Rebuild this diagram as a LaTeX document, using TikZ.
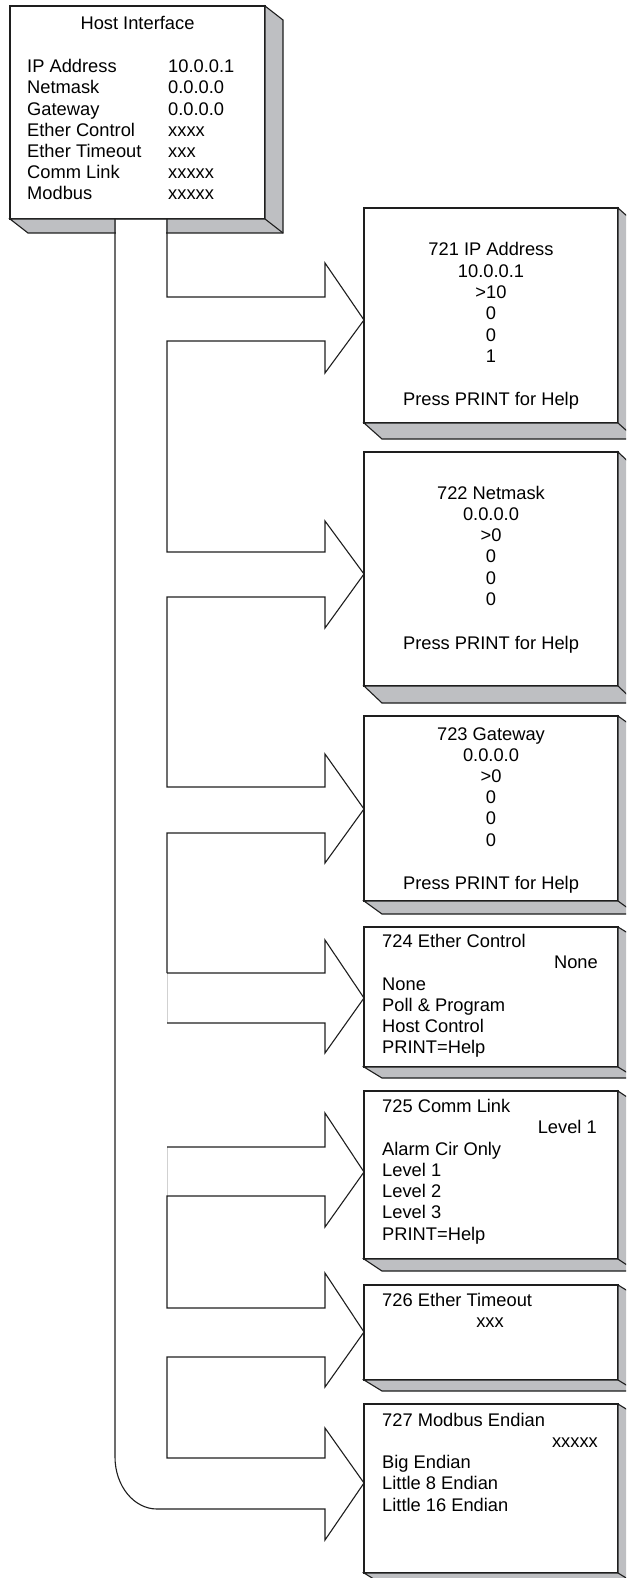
\documentclass[tikz,border=0pt]{standalone}
\usepackage{fontspec}
\setmainfont{Liberation Sans}
\definecolor{shade}{RGB}{190,191,194}
\definecolor{ink}{RGB}{30,30,30}
\tikzset{
  front/.style={draw=ink, fill=white, line width=1.1pt, inner sep=0pt, outer sep=0pt, anchor=north west},
  shadowface/.style={draw=ink, fill=shade, line width=1.1pt, line join=miter},
  pipe/.style={draw=ink, line width=1.1pt, line join=miter},
  seam/.style={draw=black!18, line width=0.8pt},
  txt/.style={inner sep=0pt, font=\fontsize{18.3}{21.4}\selectfont, text=black},
}
\newcommand\mkbox[6]{%
  \node[front, minimum width=#4pt, minimum height=#5pt] (#1) at (#2,#3) {};
  \path[shadowface] (#1.south west) -- ++(18,#6) -- ++(#4,0) -- ++(0,-#5) -- (#1.north east) -- (#1.south east) -- cycle;
  \draw[pipe] (#1.south east) -- ++(18,#6);
}
\begin{document}
\begin{tikzpicture}[x=1pt,y=-1pt]
\useasboundingbox (0,0) rectangle (626,1578);
\clip (0,0) rectangle (626,1578);

% main box
\mkbox{host}{10}{6}{255}{213}{14}
\fill[white] (115.6,220) rectangle (166.4,236);

% right boxes
\mkbox{b1}{364}{208}{254}{215}{16}
\mkbox{b2}{364}{452}{254}{234}{17}
\mkbox{b3}{364}{716}{254}{185}{13}
\mkbox{b4}{364}{927}{254}{140}{11}
\mkbox{b5}{364}{1091}{254}{168}{12}
\mkbox{b6}{364}{1285}{254}{95}{11}
\mkbox{b7}{364}{1404}{254}{169}{11}

% arrow tips on the boxes
\coordinate (t1) at (b1.west |- 0,320);
\coordinate (t2) at (b2.west |- 0,574);
\coordinate (t3) at (b3.west |- 0,809);
\coordinate (t4) at (b4.west |- 0,998);
\coordinate (t5) at (b5.west |- 0,1172);
\coordinate (t6) at (b6.west |- 0,1332);
\coordinate (t7) at (b7.west |- 0,1483);

% light seams
\draw[seam] (167,973) -- (167,1023);
\draw[seam] (167,1147) -- (167,1196);

% outer pipe line
\draw[pipe] (host.south -| 115,0) -- (115,1457) .. controls (115,1486) and (134,1509) .. (157,1509)
  -- (325,1509) -- (325,1540) -- (t7) -- (325,1428) -- (325,1458) -- (167,1458)
  -- (167,1357) -- (325,1357) -- (325,1387) -- (t6) -- (325,1273) -- (325,1308) -- (167,1308)
  -- (167,1196) -- (325,1196) -- (325,1227) -- (t5) -- (325,1113) -- (325,1147) -- (167,1147);
% inner branches
\draw[pipe] (167,1023) -- (325,1023) -- (325,1053) -- (t4) -- (325,940) -- (325,973) -- (167,973);
\draw[pipe] (167,973) -- (167,833) -- (325,833) -- (325,863) -- (t3) -- (325,754) -- (325,787) -- (167,787)
  -- (167,597) -- (325,597) -- (325,628) -- (t2) -- (325,521) -- (325,552) -- (167,552)
  -- (167,341) -- (325,341) -- (325,373) -- (t1) -- (325,263) -- (325,297) -- (167,297)
  -- (host.south -| 167,0);

% main box text
\node[txt, anchor=base] (h0) at (137.5,30) {Host Interface};
\foreach \t [count=\i] in {IP Address,Netmask,Gateway,Ether Control,Ether Timeout,Comm Link,Modbus}
  \node[txt, anchor=base west] (hl\i) at (27,{72.7+(\i-1)*21.2}) {\t};
\foreach \t [count=\i] in {10.0.0.1,0.0.0.0,0.0.0.0,xxxx,xxx,xxxxx,xxxxx}
  \node[txt, anchor=base west] (hr\i) at (168,{72.7+(\i-1)*21.2}) {\t};

% box 1
\foreach \t [count=\i] in {721 IP Address,10.0.0.1,{>10},0,0,1}
  \node[txt, anchor=base] (ba\i) at (491,{256+(\i-1)*21.3}) {\t};
\node[txt, anchor=base] (bap) at (491,405) {Press PRINT for Help};
% box 2
\foreach \t [count=\i] in {722 Netmask,0.0.0.0,{>0},0,0,0}
  \node[txt, anchor=base] (bb\i) at (491,{499+(\i-1)*21.3}) {\t};
\node[txt, anchor=base] (bbp) at (491,649) {Press PRINT for Help};
% box 3
\foreach \t [count=\i] in {723 Gateway,0.0.0.0,{>0},0,0,0}
  \node[txt, anchor=base] (bc\i) at (491,{740+(\i-1)*21.2}) {\t};
\node[txt, anchor=base] (bcp) at (491,889) {Press PRINT for Help};
% box 4
\node[txt, anchor=base west] (bd0) at (382,947.7) {724 Ether Control};
\node[txt, anchor=base east] (bdv) at (598,968.8) {None};
\foreach \t [count=\i] in {None,Poll \& Program,Host Control,PRINT=Help}
  \node[txt, anchor=base west] (bd\i) at (382,{990+(\i-1)*21.3}) {\t};
% box 5
\node[txt, anchor=base west] (be0) at (382,1112.3) {725 Comm Link};
\node[txt, anchor=base east] (bev) at (597,1133.6) {Level 1};
\foreach \t [count=\i] in {Alarm Cir Only,Level 1,Level 2,Level 3,PRINT=Help}
  \node[txt, anchor=base west] (be\i) at (382,{1155+(\i-1)*21.3}) {\t};
% box 6
\node[txt, anchor=base west] (bf0) at (382,1306) {726 Ether Timeout};
\node[txt, anchor=base] (bfv) at (490,1327.5) {xxx};
% box 7
\node[txt, anchor=base west] (bg0) at (382,1426) {727 Modbus Endian};
\node[txt, anchor=base east] (bgv) at (598,1447.3) {xxxxx};
\foreach \t [count=\i] in {Big Endian,Little 8 Endian,Little 16 Endian}
  \node[txt, anchor=base west] (bg\i) at (382,{1468.6+(\i-1)*21.3}) {\t};
\end{tikzpicture}
\end{document}
